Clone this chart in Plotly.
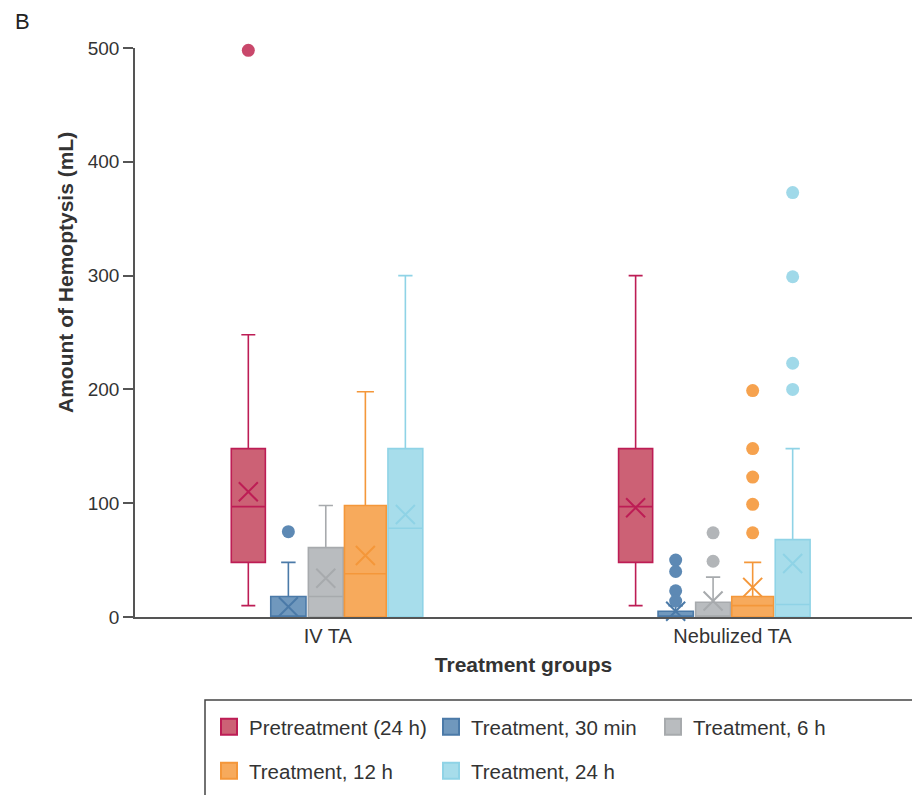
import plotly.graph_objects as go

# ---------------- data ----------------
GROUPS = ["IV TA", "Nebulized TA"]
SERIES = ["Pretreatment (24 h)", "Treatment, 30 min", "Treatment, 6 h",
          "Treatment, 12 h", "Treatment, 24 h"]

# one row per series, one column per group
LOWER_FENCE = [[10, 10], [0, 0], [0, 0], [0, 0], [0, 0]]
Q1          = [[48, 48], [0, 0], [0, 0], [0, 0], [0, 0]]
MEDIAN      = [[97, 97], [0, 0], [18, 0], [38, 10], [78, 11]]
Q3          = [[148, 148], [18, 5], [61, 13], [98, 18], [148, 68]]
UPPER_FENCE = [[248, 300], [48, 10], [98, 35], [198, 48], [300, 148]]
MEAN        = [[110, 96], [9, 5], [34, 14], [54, 26], [90, 47]]
OUTLIERS    = [
    [[498], []],
    [[75], [50, 40, 23, 14]],
    [[], [74, 49]],
    [[], [74, 99, 123, 148, 199]],
    [[], [200, 223, 299, 373]],
]

Y_TICKS = [0, 100, 200, 300, 400, 500]

# ---------------- styling ----------------
FILL = ["#cc6175", "#7098bd", "#b9bcbf", "#f7aa5c", "#a7ddeb"]
LINE = ["#bd1d55", "#4b7aa8", "#a7aaad", "#f4973a", "#8fd3e6"]
DOT  = ["#c9486b", "#5d89b4", "#b2b5b8", "#f6a24e", "#a0d9e9"]

OFFSETS = [-0.200, -0.0966, 0.0, 0.1022, 0.2055]
WIDTHS  = [0.088, 0.091, 0.090, 0.108, 0.090]
GROUP_POS = [0, 1]
LABEL_NUDGE = [0.005, 0.05]

W, H = 912, 795
# plot area in pixels (as in the reference)
L, R, T, B = 135, 912, 48, 617
FONT = "Liberation Sans, Arial, Helvetica, sans-serif"
TXT = "#333333"


def px_x(p):
    return (p - L) / (R - L)


def px_y(p):
    return (B - p) / (B - T)


fig = go.Figure()

for i, name in enumerate(SERIES):
    xs = [g + OFFSETS[i] for g in GROUP_POS]
    fig.add_trace(go.Box(
        x=xs, q1=Q1[i], median=MEDIAN[i], q3=Q3[i],
        lowerfence=LOWER_FENCE[i], upperfence=UPPER_FENCE[i],
        name=name, legendgroup=name, showlegend=False,
        width=WIDTHS[i], whiskerwidth=0.41, boxpoints=False,
        fillcolor=FILL[i], line=dict(color=LINE[i], width=1.6),
        hoverinfo="skip",
    ))
    # outliers
    ox, oy = [], []
    for gi, g in enumerate(GROUP_POS):
        for v in OUTLIERS[i][gi]:
            ox.append(g + OFFSETS[i])
            oy.append(v)
    fig.add_trace(go.Scatter(
        x=ox, y=oy, mode="markers", legendgroup=name, showlegend=False,
        marker=dict(symbol="circle", size=13, color=DOT[i]),
        cliponaxis=False, hoverinfo="y",
    ))
    # means (X)
    fig.add_trace(go.Scatter(
        x=xs, y=MEAN[i], mode="markers", legendgroup=name, showlegend=False,
        marker=dict(symbol="x-thin", size=19,
                    line=dict(color=LINE[i], width=2)),
        cliponaxis=False, hoverinfo="y",
    ))
    # legend entry
    fig.add_trace(go.Scatter(
        x=[None], y=[None], mode="markers", name=name, legendgroup=name,
        legend="legend" if i < 3 else "legend2",
        marker=dict(symbol="square", size=16, color=FILL[i],
                    line=dict(color=LINE[i], width=2)),
    ))

legend_common = dict(
    orientation="h", xanchor="left", yanchor="top",
    entrywidth=177, entrywidthmode="pixels",
    font=dict(family=FONT, size=20.5, color=TXT),
    bgcolor="rgba(0,0,0,0)", borderwidth=0, itemclick="toggle",
)

fig.update_layout(
    width=W, height=H,
    margin=dict(l=L, r=W - R, t=T, b=H - B, pad=0),
    paper_bgcolor="white", plot_bgcolor="white",
    boxmode="overlay",
    font=dict(family=FONT, color=TXT),
    xaxis=dict(
        range=[-0.4926, 1.5136],
        tickvals=[g + n for g, n in zip(GROUP_POS, LABEL_NUDGE)],
        ticktext=GROUPS, ticks="", showgrid=False, zeroline=False,
        showline=True, linecolor="#555555", linewidth=2,
        tickfont=dict(family=FONT, size=20, color=TXT),
        title=dict(text="<b>Treatment groups</b>", standoff=11,
                   font=dict(family=FONT, size=21, color=TXT)),
        fixedrange=True,
    ),
    yaxis=dict(
        range=[0, 500], tickvals=Y_TICKS, showgrid=False, zeroline=False,
        showline=True, linecolor="#555555", linewidth=1.5,
        ticks="outside", ticklen=10, tickcolor="#555555", tickwidth=1.5,
        tickfont=dict(family=FONT, size=19, color=TXT),
        fixedrange=True,
    ),
    legend=dict(x=px_x(209), y=px_y(707), **legend_common),
    legend2=dict(x=px_x(209), y=px_y(751), **legend_common),
    annotations=[
        dict(text="B", x=px_x(13), y=px_y(21), xref="paper", yref="paper",
             xanchor="left", yanchor="middle", showarrow=False,
             font=dict(family=FONT, size=22, color="#222222")),
        dict(text="<b>Amount of Hemoptysis (mL)</b>", textangle=-90,
             x=px_x(65), y=px_y(273), xref="paper", yref="paper",
             xanchor="center", yanchor="middle", showarrow=False,
             font=dict(family=FONT, size=21, color=TXT)),
    ],
    shapes=[
        dict(type="rect", xref="paper", yref="paper",
             x0=px_x(205), x1=px_x(925), y0=px_y(700), y1=px_y(810),
             line=dict(color="#444444", width=1.5), fillcolor="rgba(0,0,0,0)",
             layer="above"),
    ],
)

fig.write_html(
    "out.html",
    config={"displayModeBar": False},
    post_script="document.body.style.margin='0';"
                "document.body.style.overflow='hidden';",
)
